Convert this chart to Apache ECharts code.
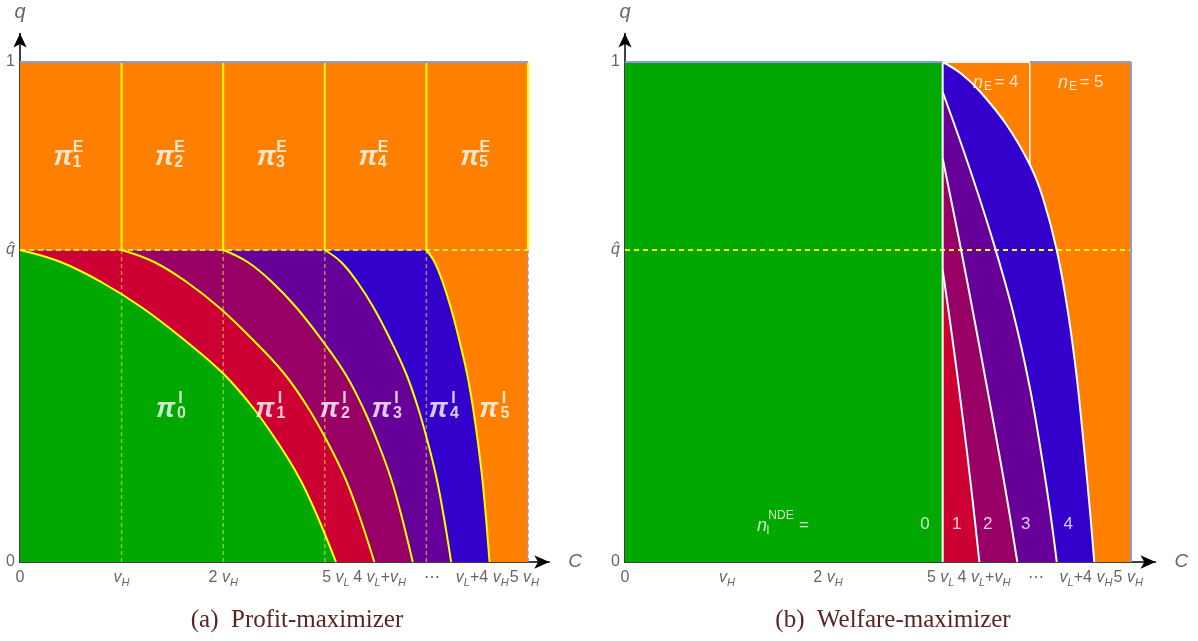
<!DOCTYPE html>
<html><head><meta charset="utf-8">
<script src="https://cdn.jsdelivr.net/npm/echarts@6/dist/echarts.min.js"></script>
<style>html,body{margin:0;padding:0;background:#fff}#c{width:1198px;height:641px}</style>
</head><body><div id="c"></div>
<script>
// ---------- data (C in units of v_H, q in [0,1]) ----------
const qHat = 0.624;
const vHLines = [1, 2, 3, 4, 5];
// (a) profit-maximizer: boundaries between pi_k^I and pi_{k+1}^I
const profitB0 = [[0,0.624],[0.4,0.600],[0.8,0.560],[1.2,0.509],[1.6,0.447],[2.0,0.377],[2.3,0.307],[2.55,0.235],[2.75,0.168],[2.92,0.095],[3.11,0]];
const profitB1 = [[1,0.624],[1.32,0.600],[1.64,0.560],[1.96,0.509],[2.28,0.447],[2.6,0.377],[2.84,0.307],[3.04,0.235],[3.2,0.168],[3.336,0.095],[3.488,0]];
const profitB2 = [[2,0.624],[2.24,0.600],[2.48,0.560],[2.72,0.509],[2.96,0.447],[3.2,0.377],[3.38,0.307],[3.53,0.235],[3.65,0.168],[3.752,0.095],[3.866,0]];
const profitB3 = [[3,0.624],[3.16,0.600],[3.32,0.560],[3.48,0.509],[3.64,0.447],[3.8,0.377],[3.92,0.307],[4.02,0.235],[4.1,0.168],[4.168,0.095],[4.244,0]];
const profitB4 = [[4,0.624],[4.08,0.600],[4.16,0.560],[4.24,0.509],[4.32,0.447],[4.4,0.377],[4.46,0.307],[4.51,0.235],[4.55,0.168],[4.584,0.095],[4.622,0]];
// (b) welfare-maximizer: boundaries n_I = k-1 | k
const five_vL = 3.139;
const welfareB1 = [[3.139,0.584],[3.233,0.45],[3.330,0.3],[3.420,0.15],[3.502,0]];
const welfareB2 = [[3.139,0.807],[3.296,0.65],[3.4385,0.5],[3.5765,0.35],[3.7115,0.2],[3.7965,0.1],[3.8765,0]];
const welfareB3 = [[3.139,0.94],[3.384,0.8],[3.624,0.65],[3.834,0.5],[3.999,0.35],[4.1265,0.2],[4.2015,0.1],[4.2665,0]];
const welfareB4 = [[3.139,1.0],[3.32,0.977],[3.508,0.941],[3.772,0.874],[4.002,0.794],[4.13,0.728],[4.266,0.624],[4.377,0.5],[4.463,0.371],[4.54,0.22],[4.60,0.09],[4.637,0]];
const nE4Line = [[4,1],[4,0.794]];
// tick marks and tick labels
const leftTickValues = [0,1,2,3.117,3.56,3.868,4.232,4.557,5.0];
const leftLabelValues = [0,1,2,3.11,3.54,4.055,4.55,4.965];
const rightTickValues = [0,1,2,3.139,3.574,3.879,4.26,4.575,4.995];
const rightLabelValues = [0,1.008,2.006,3.12,3.547,4.06,4.555,4.972];
const xLabelTexts = ['0','v_H','2 v_H','5 v_L','4 v_L+v_H','\u22EF','v_L+4 v_H','5 v_H'];
const yLabelValues = [0, 0.624, 1];
const yLabelTexts = ['0', 'q\u0302', '1'];
const welfareCounts = ['0','1','2','3','4'];

// ---------- styles ----------
const C = {green:'#00a800', red:'#cc0033', dred:'#990066', purple:'#660099', blue:'#3300cc', orange:'#ff8000',
  frame:'#8a9fcc', yellow:'#ffff00', grey:'#666666'};
const SANS = 'Liberation Sans, Arial, sans-serif';

function richify(s){
  let out='', buf='', i=0;
  const flush=()=>{ if(buf){ out+='{r|'+buf+'}'; buf=''; } };
  while(i<s.length){
    if(s[i]==='v' && s[i+1]==='_'){ flush(); out+='{i|v}{s|'+s[i+2]+'}'; i+=3; }
    else if(s[i]==='q'){ flush(); out+='{i|'+s.slice(i)+'}'; i=s.length; }
    else { buf+=s[i]; i++; }
  }
  flush(); return out;
}
const rich = {
  r:{fontFamily:SANS, fontSize:16, color:C.grey, lineHeight:20},
  i:{fontFamily:SANS, fontSize:16, fontStyle:'italic', color:C.grey, lineHeight:20},
  s:{fontFamily:SANS, fontSize:11, fontStyle:'italic', color:C.grey, lineHeight:10, verticalAlign:'bottom'}
};
function lookup(vals, texts){
  return function(v){ for(let i=0;i<vals.length;i++){ if(Math.abs(vals[i]-v)<1e-6) return richify(texts[i]); } return ''; };
}

function xAxis(gi, max, ticks, labVals){
  return {gridIndex:gi, type:'value', min:0, max:max, splitLine:{show:false},
    axisLine:{show:true, onZero:false, symbol:['none','arrow'], symbolSize:[10,15], lineStyle:{color:'#000', width:1.5}},
    axisTick:{show:true, inside:true, length:4, customValues:ticks, lineStyle:{color:'#999', width:1}},
    axisLabel:{show:true, customValues:labVals, formatter:lookup(labVals, xLabelTexts), rich:rich, margin:6,
      showMinLabel:true, showMaxLabel:true, hideOverlap:false},
    name:'C', nameLocation:'end', nameGap:19,
    nameTextStyle:{fontFamily:SANS, fontSize:19, fontStyle:'italic', color:C.grey, verticalAlign:'middle'}};
}
function yAxis(gi){
  return {gridIndex:gi, type:'value', min:0, max:1.057, splitLine:{show:false},
    axisLine:{show:true, onZero:false, symbol:['none','arrow'], symbolSize:[10,14], lineStyle:{color:'#000', width:1.5}},
    axisTick:{show:false},
    axisLabel:{show:true, customValues:yLabelValues, formatter:lookup(yLabelValues, yLabelTexts), rich:rich, margin:5,
      showMinLabel:true, showMaxLabel:true, hideOverlap:false},
    name:'q', nameLocation:'end', nameGap:11,
    nameTextStyle:{fontFamily:SANS, fontSize:20, fontStyle:'italic', color:C.grey, align:'center', verticalAlign:'bottom'}};
}

const S = [];
const SM = 0.4;
function fill(gi, data, color, smooth){
  S.push({type:'line', xAxisIndex:gi, yAxisIndex:gi, data:data, symbol:'none', showSymbol:false, smooth:smooth||false,
    lineStyle:{width:0, opacity:0}, areaStyle:{color:color, opacity:1, origin:'start'}, silent:true, animation:false, z:2});
}
function line(gi, data, color, width, type, smooth){
  S.push({type:'line', xAxisIndex:gi, yAxisIndex:gi, data:data, symbol:'none', showSymbol:false, smooth:smooth||false,
    lineStyle:{color:color, width:width, type:type||'solid', cap:'butt'}, silent:true, animation:false, z:3});
}
function texts(gi, items){
  S.push({type:'scatter', xAxisIndex:gi, yAxisIndex:gi, symbolSize:0, silent:true, animation:false, z:20, clip:false,
    data: items});
}
function T(x, y, text, size, opts, offset){
  return {value:[x,y], label:Object.assign({show:true, position:'inside', formatter:text, offset:offset||[0,0],
    color:'#fff', fontFamily:SANS, fontSize:size}, opts||{})};
}

// ---------- (a) ----------
const profitB = [profitB0, profitB1, profitB2, profitB3, profitB4];
const profitCol = [C.green, C.red, C.dred, C.purple, C.blue];
fill(0, [[0,1],[5,1]], C.orange);
for(let k=4;k>=0;k--){
  if(k>0) fill(0, [[0,qHat],[k+0.015,qHat]], profitCol[k]);
  fill(0, profitB[k], profitCol[k], SM);
}
for(let k=1;k<=4;k++) line(0, [[k,0],[k,qHat]], 'rgba(225,225,70,0.6)', 1.5, [4,3]);
line(0, [[5,0],[5,qHat]], C.frame, 1.5, [4,3]);
line(0, [[0,qHat],[5,qHat]], C.frame, 1.2);
line(0, [[0,qHat],[5,qHat]], C.yellow, 1.5, [5,4]);
vHLines.forEach(k=> line(0, [[k,qHat],[k,1]], C.yellow, 2));
line(0, [[0,1],[5,1]], C.frame, 2);
profitB.forEach(b=> line(0, b, C.yellow, 2, 'solid', SM));

const bold = {fontWeight:'bold'};
const piStyle = {fontWeight:'bold', fontStyle:'italic'};
const piE = [], piI = [];
[0.433,1.433,2.436,3.437,4.437].forEach((x,i)=>{
  piE.push(T(x,0.808,'\u03C0',27,piStyle,[-1,0]));
  piE.push(T(x,0.808,'E',16,bold,[14,-10]));
  piE.push(T(x,0.808,String(i+1),16,bold,[13,5]));
});
[1.442,2.42,3.056,3.568,4.129,4.626].forEach((x,i)=>{
  piI.push(T(x,0.304,'\u03C0',27,piStyle,[-1,0]));
  piI.push(T(x,0.304,'I',16,bold,[14,-11]));
  piI.push(T(x,0.304,String(i),16,bold,[15,4]));
});
texts(0, piE.concat(piI));

// ---------- (b) ----------
const welfareB = [welfareB1, welfareB2, welfareB3, welfareB4];
const welfareCol = [C.red, C.dred, C.purple, C.blue];
fill(1, [[0,1],[five_vL,1]], C.green);
fill(1, [[five_vL,1],[5,1]], C.orange);
for(let k=3;k>=0;k--) fill(1, welfareB[k], welfareCol[k], SM);
line(1, [[0,qHat],[5,qHat]], C.yellow, 2, [5,4]);
welfareB.forEach(b=> line(1, b, '#ffffff', 2, 'solid', SM));
line(1, [[five_vL,0],[five_vL,1]], '#ffffff', 2);
line(1, nE4Line, '#ffffff', 1.5);
line(1, [[0,1],[five_vL,1]], C.frame, 2);
line(1, [[five_vL,1],[4,1]], '#f4f4f4', 2);
line(1, [[4,1],[5,1]], C.frame, 2);
line(1, [[5,0],[5,1]], C.frame, 2);

const it = {fontStyle:'italic'};
const wt = [];
[[3.488,'4'],[4.328,'5']].forEach(([x,n])=>{
  wt.push(T(x,0.958,'n',18,it,[0,0]));
  wt.push(T(x,0.958,'E',12,{},[10,4]));
  wt.push(T(x,0.958,'= '+n,17,{},[28.5,-1]));
});
wt.push(T(1.354,0.072,'n',18,it,[0,0]));
wt.push(T(1.354,0.072,'NDE',12,{},[19,-10]));
wt.push(T(1.354,0.072,'I',12,{},[6,5]));
wt.push(T(1.354,0.072,'=',17,{},[42,-1]));
[2.964,3.278,3.584,3.959,4.38].forEach((x,i)=> wt.push(T(x,0.076,welfareCounts[i],17)));
texts(1, wt);

const chart = echarts.init(document.getElementById('c'), null, {renderer:'canvas'});
chart.setOption({
  animation:false,
  grid:[{left:20, top:33.5, width:529.3, height:528.5}, {left:625, top:33.5, width:530.5, height:528.5}],
  xAxis:[xAxis(0, 5.21, leftTickValues, leftLabelValues), xAxis(1, 5.242, rightTickValues, rightLabelValues)],
  yAxis:[yAxis(0), yAxis(1)],
  title:[
    {text:'(a)  Profit-maximizer', left:292, top:603, textAlign:'center',
     textStyle:{fontFamily:'Liberation Serif, serif', fontSize:25, fontWeight:'normal', color:'#5a2424'}},
    {text:'(b)  Welfare-maximizer', left:888, top:603, textAlign:'center',
     textStyle:{fontFamily:'Liberation Serif, serif', fontSize:25, fontWeight:'normal', color:'#5a2424'}}
  ],
  series:S
});
</script></body></html>
